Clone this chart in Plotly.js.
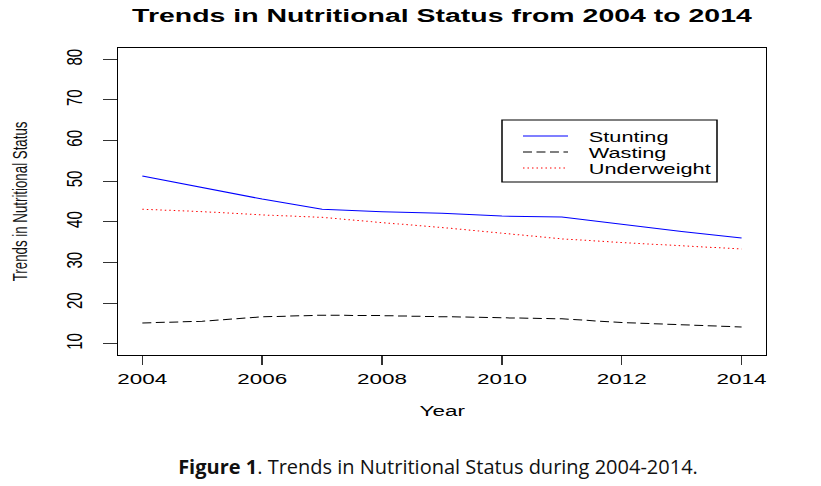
<!DOCTYPE html>
<html>
<head>
<meta charset="utf-8">
<script src="https://cdn.plot.ly/plotly-3.0.1.min.js"></script>
<style>
  html, body { margin: 0; padding: 0; background: #fff; }
  #wrap { position: relative; width: 821px; height: 486px; overflow: hidden; }
  #chart { position: absolute; left: 0; top: 0; transform-origin: 0 0; }
  #caption { position: absolute; left: 0; width: 876px; top: 453px; text-align: center; line-height: 27px;
             font-family: "Open Sans", "Noto Sans", sans-serif; font-size: 20px; color: #111; }
</style>
</head>
<body>
<div id="wrap">
  <div id="chart"></div>
  <div id="caption"><b>Figure 1</b>. Trends in Nutritional Status during 2004-2014.</div>
</div>
<script>
// ---- data ----
const years = [2004, 2005, 2006, 2007, 2008, 2009, 2010, 2011, 2012, 2013, 2014];
const stunting = [51.3, 48.5, 45.6, 43.1, 42.5, 42.1, 41.4, 41.2, 39.4, 37.6, 36.0];
const wasting = [15.1, 15.5, 16.6, 17.0, 16.9, 16.6, 16.3, 16.1, 15.2, 14.7, 14.1];
const underweight = [43.1, 42.5, 41.7, 41.1, 39.8, 38.6, 37.2, 35.8, 34.9, 34.1, 33.3];
const seriesNames = ["Stunting", "Wasting", "Underweight"];
const xTickVals = [2004, 2006, 2008, 2010, 2012, 2014];
const yTickVals = [10, 20, 30, 40, 50, 60, 70, 80];

// ---- geometry: the reference looks like an R plot stretched horizontally ----
const OUT_W = 821, H = 486;
const IN_W = 548;
const S = OUT_W / IN_W;
const M = { l: 79, r: 37, t: 48, b: 131 };
const PW = IN_W - M.l - M.r, PH = H - M.t - M.b;
const px = x => (x / S - M.l) / PW;      // outer pixel x -> paper x
const py = y => (H - M.b - y) / PH;      // pixel y -> paper y

const FONT = "Liberation Sans, Arial, Helvetica, sans-serif";
const styles = [
  { color: "#0000ff", dash: "solid" },
  { color: "#000000", dash: "6px,3px" },
  { color: "#ff0000", dash: "1px,2px" }
];
const values = [stunting, wasting, underweight];

const traces = values.map((v, i) => ({
  x: years, y: v, type: "scatter", mode: "lines", name: seriesNames[i],
  line: { color: styles[i].color, width: 1, dash: styles[i].dash },
  hoverinfo: "x+y+name"
}));

const rowsY = [136, 152, 168];
const shapes = [{
  type: "rect", xref: "paper", yref: "paper",
  x0: px(502), x1: px(717), y0: py(120), y1: py(182),
  line: { color: "#000", width: 1 }, fillcolor: "rgba(0,0,0,0)"
}];
const annotations = [];
seriesNames.forEach((n, i) => {
  shapes.push({
    type: "line", xref: "paper", yref: "paper",
    x0: px(523), x1: px(568), y0: py(rowsY[i]), y1: py(rowsY[i]),
    line: { color: styles[i].color, width: 1, dash: styles[i].dash }
  });
  annotations.push({
    xref: "paper", yref: "paper", x: px(588), y: py(rowsY[i] + 0.5),
    xanchor: "left", yanchor: "middle", showarrow: false, text: n, borderpad: 0,
    font: { family: FONT, size: 14.5, color: "#000" }
  });
});
annotations.push({
  xref: "paper", yref: "paper", x: 0.5, y: py(410), xanchor: "center", yanchor: "middle",
  showarrow: false, text: "Year", font: { family: FONT, size: 15, color: "#000" }
});
annotations.push({
  xref: "paper", yref: "paper", x: px(20), y: py(201), xanchor: "center", yanchor: "middle",
  textangle: -90, showarrow: false, text: "Trends in Nutritional Status",
  font: { family: FONT, size: 13.3, color: "#111" }
});

const axisCommon = {
  showgrid: false, zeroline: false, showline: true, mirror: true,
  linecolor: "#000", linewidth: 1, ticks: "outside", ticklen: 9, tickwidth: 1,
  tickcolor: "#333", tickfont: { family: FONT, size: 15, color: "#000" }
};

const layout = {
  width: IN_W, height: H, margin: M,
  paper_bgcolor: "#fff", plot_bgcolor: "#fff", showlegend: false,
  title: {
    text: "Trends in Nutritional Status from 2004 to 2014",
    x: 0.5, xref: "paper", xanchor: "center",
    y: 1 - 15.5 / H, yref: "container", yanchor: "middle",
    font: { family: FONT, size: 19, weight: 700, color: "#000" }
  },
  xaxis: Object.assign({}, axisCommon, {
    range: [2003.6, 2014.4], tickmode: "array", tickvals: xTickVals,
    ticktext: xTickVals.map(String), ticklabelstandoff: 1
  }),
  yaxis: Object.assign({}, axisCommon, {
    range: [7.2, 82.8], tickmode: "array", tickvals: yTickVals,
    ticktext: yTickVals.map(String), tickangle: -90, ticklabelstandoff: 8
  }),
  shapes: shapes, annotations: annotations
};

document.getElementById("chart").style.transform = "scaleX(" + S + ")";
Plotly.newPlot("chart", traces, layout, { displayModeBar: false, staticPlot: true });
</script>
</body>
</html>
